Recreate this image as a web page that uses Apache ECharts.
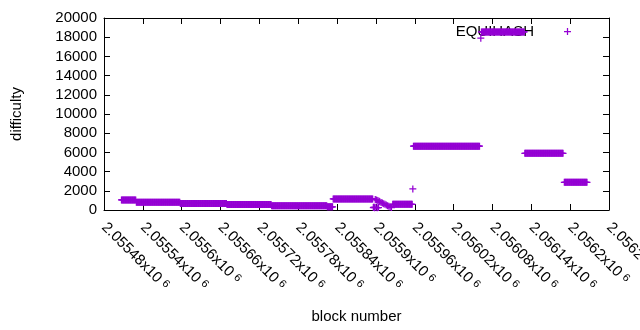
<!DOCTYPE html>
<html>
<head>
<meta charset="utf-8">
<script src="https://cdn.jsdelivr.net/npm/echarts@6/dist/echarts.min.js"></script>
<style>
  html, body { margin: 0; padding: 0; background: #fff; }
  #chart { width: 640px; height: 330px; }
</style>
</head>
<body>
<div id="chart"></div>
<script>
// ---- Data (block number vs difficulty) ----
// Runs of consecutive blocks that share (almost) the same difficulty
const runFirstBlock = [2055507, 2055530, 2055598, 2055670, 2055739, 2055825, 2055834, 2055926, 2055958, 2056063, 2056130, 2056191];
const runLastBlock  = [2055529, 2055597, 2055669, 2055738, 2055824, 2055833, 2055895, 2055956, 2056060, 2056129, 2056189, 2056226];
const runDifficulty = [1050,    800,     680,     570,     450,     330,     1150,    590,     6650,    18550,   5900,    2880];

// Individual blocks that do not belong to a run
const singleBlocks = [2055896, 2055897, 2055898, 2055899, 2055900, 2055901, 2055902, 2055903, 2055904, 2055905,
                      2055906, 2055908, 2055910, 2055912, 2055914, 2055916, 2055918, 2055920, 2055922, 2055924,
                      2055957, 2056062];
const singleDifficulty = [260, 300, 240, 1100, 280, 1050, 230, 980, 250, 900,
                          850, 780, 720, 650, 600, 520, 450, 380, 320, 260,
                          2200, 17900];

// Axis ticks
const xMin = 2055480, xMax = 2056260, xStep = 60;
const yMin = 0, yMax = 20000, yStep = 2000;
const seriesName = 'EQUIHASH';
const xTitle = 'block number';
const yTitle = 'difficulty';

// ---- Build point list ----
const points = [];
for (let r = 0; r < runFirstBlock.length; r++) {
  for (let b = runFirstBlock[r]; b <= runLastBlock[r]; b++) {
    points.push([b, runDifficulty[r]]);
  }
}
for (let i = 0; i < singleBlocks.length; i++) {
  points.push([singleBlocks[i], singleDifficulty[i]]);
}

const PLUS = 'path://M5.75,0H8.25V5.75H14V8.25H8.25V14H5.75V8.25H0V5.75H5.75Z';
const FONT = 'Liberation Sans, Arial, sans-serif';
const FS = 15;

const chart = echarts.init(document.getElementById('chart'), null, { renderer: 'canvas' });
chart.setOption({
  animation: false,
  backgroundColor: '#ffffff',
  textStyle: { fontFamily: FONT },
  grid: { left: 104, right: 31, top: 18, bottom: 120, containLabel: false, outerBoundsMode: 'none' },
  legend: {
    data: [seriesName],
    right: 69, top: 24, padding: 0, z: 1,
    align: 'right',
    icon: PLUS, itemWidth: 7, itemHeight: 7,
    textStyle: { fontSize: FS, color: '#000', fontFamily: FONT, padding: [0, 25, 0, 0] }
  },
  xAxis: [{
    type: 'value', min: xMin, max: xMax, interval: xStep,
    name: xTitle, nameLocation: 'middle', nameGap: 99,
    nameTextStyle: { fontSize: FS, color: '#000', fontFamily: FONT },
    axisLine: { show: true, onZero: false, lineStyle: { color: '#000', width: 1 } },
    axisTick: { show: true, inside: true, length: 6, lineStyle: { color: '#000' } },
    splitLine: { show: false },
    axisLabel: {
      rotate: -45, margin: 15, color: '#000', showMaxLabel: true, showMinLabel: true,
      hideOverlap: false,
      formatter: function (v) { return '{m|' + (v / 1e6) + 'x10}{s|6}'; },
      rich: {
        m: { fontSize: FS, color: '#000', fontFamily: FONT },
        s: { fontSize: 11, color: '#000', fontFamily: FONT, verticalAlign: 'top', padding: [0, 0, 0, 4] }
      }
    }
  }, {
    type: 'value', min: xMin, max: xMax, interval: xStep, position: 'top',
    axisLine: { show: true, onZero: false, lineStyle: { color: '#000', width: 1 } },
    axisTick: { show: true, inside: true, length: 6, lineStyle: { color: '#000' } },
    axisLabel: { show: false }, splitLine: { show: false }
  }],
  yAxis: [{
    type: 'value', min: yMin, max: yMax, interval: yStep,
    name: yTitle, nameLocation: 'middle', nameGap: 80, nameRotate: 90,
    nameTextStyle: { fontSize: FS, color: '#000', fontFamily: FONT },
    axisLine: { show: true, lineStyle: { color: '#000', width: 1 } },
    axisTick: { show: true, inside: true, length: 6, lineStyle: { color: '#000' } },
    splitLine: { show: false },
    axisLabel: { fontSize: FS, color: '#000', margin: 7, fontFamily: FONT,
                 formatter: function (v) { return String(v); } }
  }, {
    type: 'value', min: yMin, max: yMax, interval: yStep, position: 'right',
    axisLine: { show: true, lineStyle: { color: '#000', width: 1 } },
    axisTick: { show: true, inside: true, length: 6, lineStyle: { color: '#000' } },
    axisLabel: { show: false }, splitLine: { show: false }
  }],
  series: [{
    name: seriesName,
    type: 'scatter',
    xAxisIndex: 0, yAxisIndex: 0,
    symbol: PLUS, symbolSize: 7,
    itemStyle: { color: '#9400d3', opacity: 1 },
    z: 3,
    large: false,
    progressive: 0,
    data: points
  }]
});
</script>
</body>
</html>
